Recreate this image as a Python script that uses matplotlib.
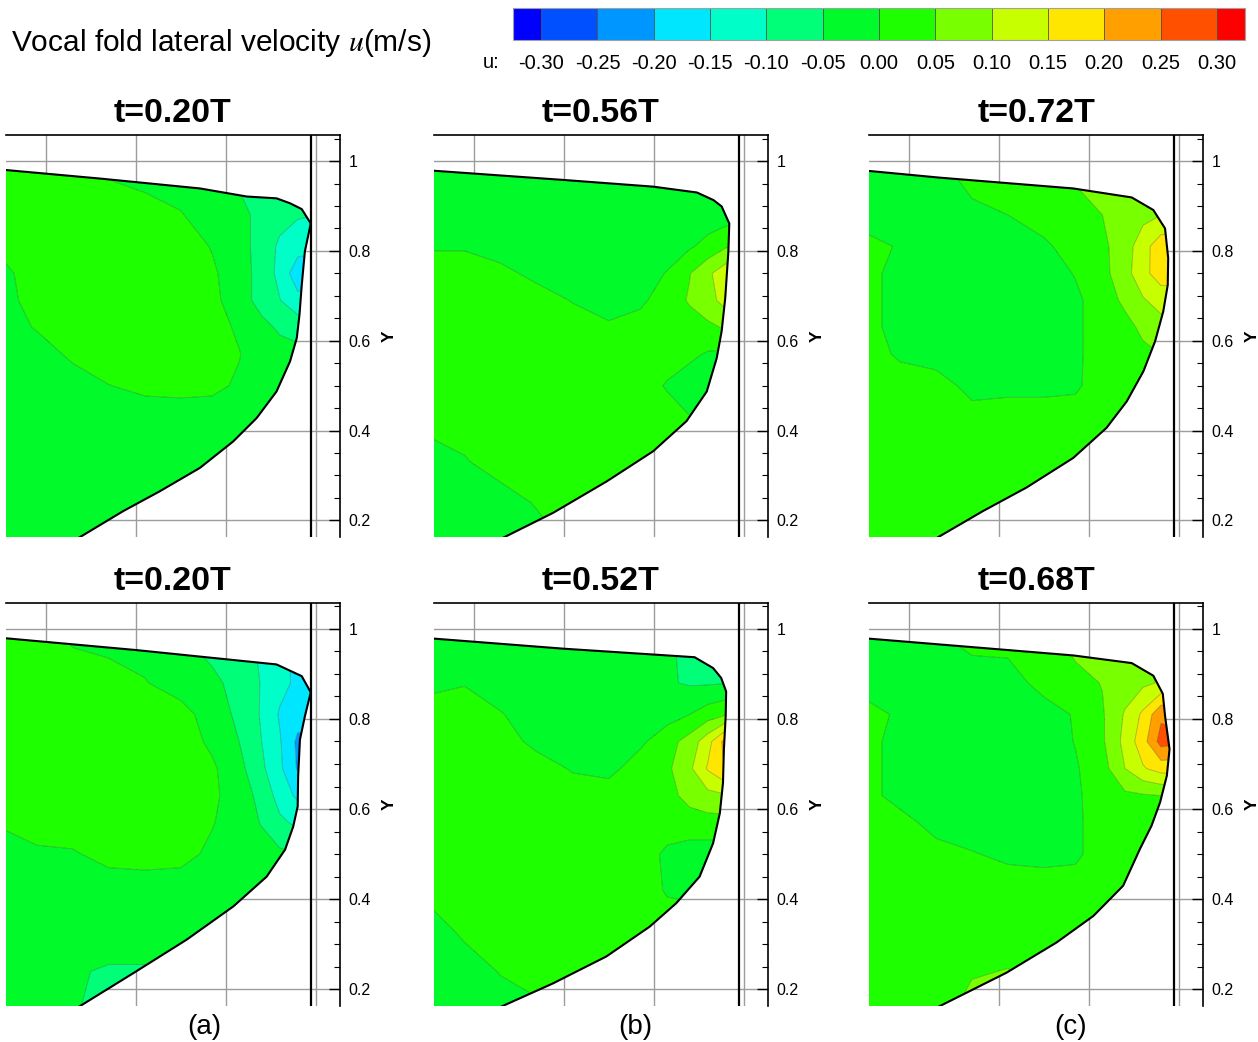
import numpy as np
import matplotlib
matplotlib.use("Agg")
import matplotlib.pyplot as plt
from matplotlib.colors import ListedColormap, BoundaryNorm
from matplotlib.patches import Polygon
from matplotlib.cm import ScalarMappable
from matplotlib.ticker import MultipleLocator, FuncFormatter

plt.rcParams['font.family'] = ['Liberation Sans', 'DejaVu Sans']

# ---------------------------------------------------------------- data
levels = [-0.30, -0.25, -0.20, -0.15, -0.10, -0.05, 0.00, 0.05, 0.10, 0.15, 0.20, 0.25, 0.30]
band_colors = ['#0050ff', '#0096ff', '#00e6ff', '#00ffc8', '#00ff78', '#00fa2a',
               '#1eff00', '#78ff00', '#c8ff00', '#ffe600', '#ffa000', '#ff5000']
under_color = '#0000ff'
over_color = '#ff0000'

titles = ['t=0.20T', 't=0.56T', 't=0.72T', 't=0.20T', 't=0.52T', 't=0.68T']
column_labels = ['(a)', '(b)', '(c)']
y_ticks = [0.2, 0.4, 0.6, 0.8, 1.0]
midline_x = 0.789

# sampling grid of the lateral velocity field
grid_x = [0.10, 0.18, 0.26, 0.34, 0.42, 0.50, 0.57, 0.63, 0.68, 0.72, 0.76, 0.80]
grid_y = [0.15, 0.24, 0.33, 0.42, 0.50, 0.57, 0.63, 0.69, 0.75, 0.81, 0.88, 0.99]

# u in cm/s, one row per grid_y value (bottom to top)
u_a_top = [
    [-2.5] * 12,
    [-2.5] * 12,
    [-2.5] * 12,
    [-2.5] * 12,
    [-2.5, -2.5, -2.5, -0.1, 1.0, 1.3, 1.0, -0.6, -2.5, -3.0, -3.0, -3.0],
    [-2.5, -2.5, 1.0, 2.5, 2.5, 2.5, 2.5, 0.2, -2.5, -3.0, -3.5, -3.5],
    [-2.5, 0.4, 2.5, 2.5, 2.5, 2.5, 2.0, -0.8, -3.5, -5.8, -7.0, -7.0],
    [-2.5, 2.5, 2.5, 2.5, 2.5, 2.5, 1.2, -2.5, -7.0, -9.8, -13.5, -13.5],
    [-1.5, 2.5, 2.5, 2.5, 2.5, 2.5, 0.8, -3.0, -6.6, -11.5, -18.0, -18.0],
    [1.0, 2.5, 2.5, 2.5, 2.5, 2.5, -0.3, -3.5, -6.5, -11.0, -13.0, -14.0],
    [2.5, 2.5, 2.5, 2.5, 2.5, 0.3, -2.5, -4.0, -6.0, -8.0, -9.5, -10.0],
    [2.5, 2.0, 1.0, -1.0, -3.0, -3.0, -3.5, -6.0, -7.0, -8.0, -9.0, -9.0],
]
u_b_top = [
    [-2.5, -2.5, -2.5, -2.5, 1.0, 2.5, 2.5, 2.5, 2.5, 2.5, 2.5, 2.5],
    [-2.5, -2.5, -2.5, 0.5, 2.5, 2.5, 2.5, 2.5, 2.5, 2.5, 2.5, 2.5],
    [-2.5, -0.5, 2.5, 2.5, 2.5, 2.5, 2.5, 2.5, 2.5, 2.5, 2.5, 2.5],
    [1.5, 2.5, 2.5, 2.5, 2.5, 2.5, 2.5, 2.5, 0.5, 0.5, 0.5, 0.5],
    [2.5, 2.5, 2.5, 2.5, 2.5, 2.5, 2.5, -0.5, -2.5, -2.5, -2.5, -2.5],
    [2.5, 2.5, 2.5, 2.5, 2.5, 2.5, 2.5, 2.5, 1.0, -0.5, -1.0, -1.5],
    [2.5, 2.5, 2.5, 2.5, 2.5, 0.8, 2.0, 2.5, 3.0, 4.0, 5.5, 6.0],
    [2.5, 2.5, 2.5, 2.5, -0.3, -2.5, -1.0, 2.5, 5.5, 8.0, 12.0, 12.0],
    [2.5, 2.5, 1.5, -1.5, -2.5, -2.5, -2.5, 0.3, 4.8, 9.0, 13.0, 13.0],
    [-0.5, -0.5, -2.5, -2.5, -2.5, -2.5, -2.5, -2.5, -0.6, 1.5, 4.5, 4.0],
    [-2.5] * 12,
    [-2.5] * 12,
]
u_c_top = [
    [2.5] * 12,
    [2.5] * 12,
    [2.5] * 12,
    [2.5] * 12,
    [2.5, 2.5, 2.5, -1.8, -1.2, -1.2, -0.8, 2.5, 2.5, 2.5, 2.5, 2.5],
    [2.5, -0.8, -2.5, -2.5, -2.5, -2.5, -1.0, 2.5, 3.0, 4.0, 5.0, 5.0],
    [2.5, -2.5, -2.5, -2.5, -2.5, -2.5, -1.0, 2.5, 3.5, 6.0, 8.0, 8.0],
    [2.5, -2.5, -2.5, -2.5, -2.5, -2.5, -1.0, 2.5, 6.0, 9.5, 12.0, 12.0],
    [2.5, -2.5, -2.5, -2.5, -2.5, -2.5, 0.3, 3.5, 8.0, 13.5, 17.5, 17.5],
    [2.0, -0.5, -2.5, -2.5, -2.5, -1.0, 2.5, 4.0, 7.5, 13.0, 18.0, 18.0],
    [-2.5, -2.5, -2.5, -1.0, 0.0, 2.5, 3.5, 5.0, 7.0, 8.5, 10.0, 10.0],
    [-2.5, -2.5, -1.0, 2.0, 2.5, 4.0, 6.0, 6.0, 7.0, 8.0, 8.0, 8.0],
]
u_a_bottom = [
    [-2.5, -2.5, -4.5, -7.0, -7.0, -7.0, -7.0, -7.0, -7.0, -7.0, -7.0, -7.0],
    [-2.5, -2.5, -4.5, -5.5, -5.5, -5.0, -5.0, -5.0, -5.0, -5.0, -5.0, -5.0],
    [-2.5] * 12,
    [-2.5] * 12,
    [-2.5, -1.0, -0.5, 1.5, 2.0, 1.5, -1.0, -2.5, -3.0, -4.0, -5.0, -5.0],
    [0.5, 2.5, 2.5, 2.5, 2.5, 2.5, 0.3, -2.5, -5.3, -9.0, -11.0, -11.0],
    [2.5, 2.5, 2.5, 2.5, 2.5, 2.5, 1.0, -2.5, -6.5, -12.0, -16.0, -16.0],
    [2.5, 2.5, 2.5, 2.5, 2.5, 2.5, 0.8, -3.5, -9.0, -14.0, -20.5, -20.0],
    [2.5, 2.5, 2.5, 2.5, 2.5, 2.5, -1.0, -5.0, -10.0, -14.5, -21.0, -21.0],
    [2.5, 2.5, 2.5, 2.5, 2.5, 2.0, -2.5, -6.0, -10.5, -15.5, -18.0, -18.0],
    [2.5, 2.5, 2.5, 2.5, 0.3, -2.5, -4.0, -6.5, -10.3, -13.5, -16.0, -16.0],
    [2.5, 2.0, -1.0, -2.5, -2.5, -5.0, -7.0, -8.0, -11.0, -14.0, -16.0, -16.0],
]
u_b_bottom = [
    [-2.5, -2.5, -2.5, -1.5, 2.5, 2.5, 2.5, 2.5, 2.5, 2.5, 2.5, 2.5],
    [-2.5, -2.5, 0.3, 2.5, 2.5, 2.5, 2.5, 2.5, 2.5, 2.5, 2.5, 2.5],
    [-2.5, 1.0, 2.5, 2.5, 2.5, 2.5, 2.5, 2.5, 2.5, 2.5, 2.5, 2.5],
    [1.5, 2.5, 2.5, 2.5, 2.5, 2.5, 2.5, -0.5, -1.0, -1.0, -1.0, -1.0],
    [2.5, 2.5, 2.5, 2.5, 2.5, 2.5, 2.5, -1.0, -2.5, -2.5, -2.5, -2.5],
    [2.5, 2.5, 2.5, 2.5, 2.5, 2.5, 2.5, 2.5, 3.0, 3.0, 3.0, 3.0],
    [2.5, 2.5, 2.5, 2.5, 2.5, 2.5, 2.5, 3.5, 6.5, 8.5, 9.5, 9.5],
    [2.5, 2.5, 2.5, 2.5, -0.5, -1.5, 2.5, 4.0, 9.0, 15.5, 20.5, 20.0],
    [2.5, 2.5, 2.5, -1.5, -2.5, -2.5, -1.0, 3.0, 7.0, 13.0, 22.0, 22.0],
    [2.5, 2.5, 0.3, -2.5, -2.5, -2.5, -2.5, -2.0, 0.0, 2.5, 4.5, 5.0],
    [-1.5, -0.3, -2.5, -2.5, -2.5, -2.5, -3.5, -4.5, -5.5, -5.5, -5.2, -5.0],
    [-2.5, -2.5, -2.5, -2.5, -2.5, -2.5, -3.0, -4.0, -7.0, -7.0, -7.0, -7.0],
]
u_c_bottom = [
    [2.5, 2.5, 3.0, 7.0, 7.0, 2.5, 2.5, 2.5, 2.5, 2.5, 2.5, 2.5],
    [2.5, 2.5, 2.5, 4.5, 5.2, 2.5, 2.5, 2.5, 2.5, 2.5, 2.5, 2.5],
    [2.5] * 12,
    [2.5] * 12,
    [2.5, 2.5, 2.5, 0.3, -1.0, -1.5, -1.0, 2.5, 2.5, 2.5, 2.5, 2.5],
    [2.5, 2.5, -2.5, -2.5, -2.5, -2.5, -1.0, 2.5, 2.5, 2.5, 2.5, 2.5],
    [2.5, -2.5, -2.5, -2.5, -2.5, -2.5, -1.0, 3.0, 4.0, 4.5, 5.0, 5.0],
    [2.5, -2.5, -2.5, -2.5, -2.5, -2.5, -0.5, 3.0, 10.0, 14.5, 17.0, 17.0],
    [2.5, -2.5, -2.5, -2.5, -2.5, -2.5, 0.2, 4.3, 11.5, 18.0, 27.0, 26.0],
    [2.5, -1.0, -2.5, -2.5, -2.5, -2.5, 0.5, 4.5, 10.5, 16.0, 24.0, 24.0],
    [-2.5, -2.5, -2.5, -2.5, -2.5, 2.0, 3.5, 5.2, 7.5, 9.0, 10.5, 11.0],
    [-2.5, -2.5, -0.3, 2.0, 2.5, 3.5, 7.0, 7.0, 8.0, 10.0, 12.0, 12.0],
]

# vocal fold surface (superior edge -> medial face -> inferior edge)
fold_a_top_x = [0.09, 0.321, 0.543, 0.647, 0.713, 0.743, 0.769, 0.789, 0.776, 0.769, 0.764,
                0.758, 0.743, 0.713, 0.669, 0.617, 0.543, 0.454, 0.373, 0.280, 0.238]
fold_a_top_y = [0.982, 0.961, 0.939, 0.921, 0.917, 0.906, 0.893, 0.861, 0.799, 0.724, 0.658,
                0.606, 0.554, 0.487, 0.428, 0.376, 0.317, 0.265, 0.221, 0.165, 0.140]
fold_b_top_x = [0.09, 0.399, 0.599, 0.696, 0.733, 0.751, 0.768, 0.766, 0.759, 0.751, 0.740,
                0.718, 0.673, 0.599, 0.496, 0.377, 0.273, 0.223]
fold_b_top_y = [0.980, 0.958, 0.943, 0.930, 0.913, 0.899, 0.861, 0.799, 0.695, 0.621, 0.561,
                0.487, 0.421, 0.354, 0.287, 0.217, 0.165, 0.140]
fold_c_top_x = [0.09, 0.269, 0.565, 0.695, 0.743, 0.769, 0.776, 0.775, 0.765, 0.747, 0.721,
                0.684, 0.639, 0.565, 0.461, 0.365, 0.269, 0.226]
fold_c_top_y = [0.980, 0.963, 0.939, 0.919, 0.891, 0.850, 0.784, 0.724, 0.665, 0.599, 0.532,
                0.465, 0.406, 0.339, 0.273, 0.221, 0.165, 0.140]
fold_a_bottom_x = [0.09, 0.400, 0.713, 0.769, 0.789, 0.776, 0.765, 0.761, 0.760, 0.750, 0.732,
                   0.691, 0.617, 0.513, 0.395, 0.280, 0.240]
fold_a_bottom_y = [0.981, 0.953, 0.921, 0.895, 0.859, 0.806, 0.754, 0.673, 0.606, 0.561, 0.510,
                   0.450, 0.384, 0.310, 0.236, 0.165, 0.140]
fold_b_bottom_x = [0.09, 0.399, 0.691, 0.732, 0.750, 0.761, 0.760, 0.756, 0.754, 0.747, 0.732,
                   0.702, 0.650, 0.591, 0.495, 0.376, 0.269, 0.215]
fold_b_bottom_y = [0.980, 0.956, 0.937, 0.913, 0.891, 0.861, 0.806, 0.732, 0.658, 0.591, 0.524,
                   0.450, 0.391, 0.339, 0.273, 0.213, 0.165, 0.140]
fold_c_bottom_x = [0.09, 0.565, 0.695, 0.743, 0.764, 0.769, 0.779, 0.773, 0.758, 0.739, 0.713,
                   0.676, 0.610, 0.528, 0.417, 0.269, 0.223]
fold_c_bottom_y = [0.980, 0.941, 0.924, 0.896, 0.856, 0.807, 0.733, 0.674, 0.615, 0.563, 0.511,
                   0.430, 0.363, 0.304, 0.237, 0.163, 0.140]

fields = [u_a_top, u_b_top, u_c_top, u_a_bottom, u_b_bottom, u_c_bottom]
folds = [(fold_a_top_x, fold_a_top_y), (fold_b_top_x, fold_b_top_y), (fold_c_top_x, fold_c_top_y),
         (fold_a_bottom_x, fold_a_bottom_y), (fold_b_bottom_x, fold_b_bottom_y),
         (fold_c_bottom_x, fold_c_bottom_y)]

# ---------------------------------------------------------------- figure
W, H = 1258, 1042
fig = plt.figure(figsize=(W / 100, H / 100), dpi=100)


def box(x0, y0, x1, y1):
    """pixel box (top-left origin) -> figure fraction rect"""
    return [x0 / W, 1 - y1 / H, (x1 - x0) / W, (y1 - y0) / H]


XLIM = (0.112, 0.854)
YLIM = (0.163, 1.058)

cmap = ListedColormap(band_colors)
cmap.set_under(under_color)
cmap.set_over(over_color)
norm = BoundaryNorm(levels, cmap.N)

X, Y = np.meshgrid(grid_x, grid_y)

col_left = [6, 434, 869.3]
row_top = [(135, 537), (602.7, 1006)]
panel_w = 334

for i in range(6):
    r, c = divmod(i, 3)
    x0 = col_left[c]
    y0, y1 = row_top[r]
    ax = fig.add_axes(box(x0, y0, x0 + panel_w, y1))
    ax.set_xlim(*XLIM)
    ax.set_ylim(*YLIM)

    # grid
    ax.xaxis.set_major_locator(MultipleLocator(0.2))
    ax.set_yticks(y_ticks)
    ax.yaxis.set_minor_locator(MultipleLocator(0.05))
    ax.grid(True, which='major', color='#9c9c9c', lw=1.0, zorder=0)
    ax.set_axisbelow(True)

    # field, clipped to the fold
    Z = np.array(fields[i]) / 100.0
    fx, fy = folds[i]
    left = XLIM[0] - 0.05
    bottom = YLIM[0] - 0.05
    verts = list(zip(fx, fy)) + [(fx[-1], bottom), (left, bottom), (left, fy[0])]
    clip = Polygon(verts, closed=True, facecolor='none', edgecolor='none',
                   transform=ax.transData)
    ax.add_patch(clip)
    cf = ax.contourf(X, Y, Z, levels=levels, cmap=cmap, norm=norm, extend='both',
                     zorder=1, antialiased=True)
    cf.set_clip_path(clip)
    cl = ax.contour(X, Y, Z, levels=levels, colors='k', linewidths=0.6, alpha=0.28,
                    negative_linestyles='solid', zorder=1.5)
    cl.set_clip_path(clip)
    ax.plot(fx, fy, color='k', lw=1.5, zorder=3, solid_joinstyle='round')

    ax.axvline(midline_x, color='k', lw=1.6, zorder=3)

    # frame
    for s in ('left', 'bottom'):
        ax.spines[s].set_visible(False)
    for s in ('top', 'right'):
        ax.spines[s].set_linewidth(1.2)
        ax.spines[s].set_zorder(4)

    ax.tick_params(axis='x', which='both', bottom=False, top=False,
                   labelbottom=False, labeltop=False)
    ax.yaxis.tick_right()
    ax.yaxis.set_label_position('right')
    ax.tick_params(axis='y', which='both', direction='in', left=False, right=True,
                   labelleft=False, labelright=True, colors='k')
    ax.tick_params(axis='y', which='major', length=8, width=1.0, labelsize=11.5, pad=6)
    ax.tick_params(axis='y', which='minor', length=4.5, width=0.8)
    ax.yaxis.set_major_formatter(FuncFormatter(lambda v, p: f'{v:g}'))
    ax.set_ylabel('Y', rotation=90, fontsize=12.5, fontweight='bold', labelpad=8)

    ax.set_title(titles[i], fontsize=24.5, fontweight='bold', pad=9)

# column captions
for lab, xc in zip(column_labels, [204, 635, 1071]):
    fig.text(xc / W, 1 - 1027 / H, lab, fontsize=20, ha='center', va='center')

# header and colour legend
fig.text(11 / W, 1 - 43 / H, 'Vocal fold lateral velocity $u$(m/s)', fontsize=21.5,
         ha='left', va='center', math_fontfamily='stix')

cax = fig.add_axes(box(513, 8, 1245, 40))
sm = ScalarMappable(norm=norm, cmap=cmap)
cb = fig.colorbar(sm, cax=cax, orientation='horizontal', extend='both', extendrect=True,
                  extendfrac=1 / 24, drawedges=True, ticks=levels)
cb.ax.set_xticklabels([f'{v:.2f}' for v in levels])
cb.ax.tick_params(length=0, labelsize=14.5, pad=10)
cb.outline.set_edgecolor('#a0a0a0')
cb.outline.set_linewidth(0.8)
cb.dividers.set_color('#505050')
cb.dividers.set_linewidth(0.6)
fig.text(491 / W, 1 - 63 / H, 'u:', fontsize=14.5, ha='center', va='center')

fig.savefig('out.png', dpi=100)
